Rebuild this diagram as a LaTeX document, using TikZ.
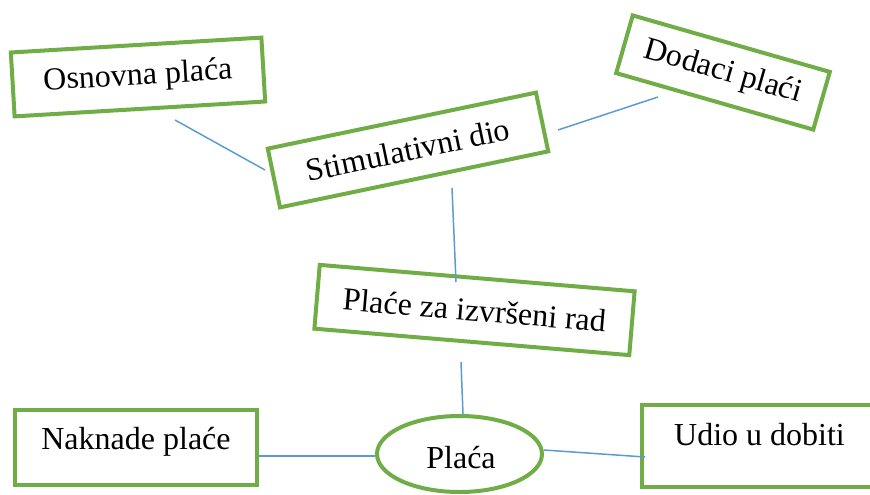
\documentclass[tikz,border=0pt]{standalone}
\usepackage{fontspec}
\setmainfont{Liberation Serif}
\usetikzlibrary{shapes.geometric,calc}
\definecolor{boxgreen}{RGB}{112,173,71}
\definecolor{lineblue}{RGB}{91,155,213}
\begin{document}
\begin{tikzpicture}[x=1pt,y=-1pt,
  box/.style={draw=boxgreen,line width=4pt,fill=white,inner sep=0pt,
    font=\fontsize{32}{38}\selectfont},
  oval/.style={box,ellipse},
  lbl/.style={inner sep=0pt,anchor=base,font=\fontsize{32}{38}\selectfont},
  link/.style={draw=lineblue,line width=1.5pt}]
\useasboundingbox (0,0) rectangle (870,495);
\clip (0,0) rectangle (870,495);
% rotated boxes
\node[box,minimum width=251pt,minimum height=64pt,rotate=3.4] (osn) at (138,77) {Osnovna plaća};
\node[box,minimum width=274pt,minimum height=60pt,rotate=11.8] (stim) at (408,150) {Stimulativni dio};
\node[box,minimum width=205pt,minimum height=60pt,rotate=-16] (dod) at (723,72.5) {Dodaci plaći};
\node[box,minimum width=316pt,minimum height=64pt,rotate=-4.8] (rad) at (474.5,310) {Plaće za izvršeni rad};
% bottom row
\node[box,minimum width=242pt,minimum height=75pt] (nak) at (136,447.5) {};
\node[lbl] (naktxt) at ($(nak.center)+(0,1.5)$) {Naknade plaće};
\node[box,minimum width=235pt,minimum height=82pt] (udio) at (759.5,446) {};
\node[lbl] (udiotxt) at ($(udio.center)+(0,-1)$) {Udio u dobiti};
\node[oval,minimum width=165pt,minimum height=76pt] (placa) at (459.5,454) {};
\node[lbl] (placatxt) at ($(placa.center)+(1.5,14)$) {Plaća};
% connector end points
\coordinate (osnS) at (175,120);
\coordinate (stimW) at (265,170);
\coordinate (stimE) at (558,130);
\coordinate (dodW) at (658,97);
\coordinate (stimS) at (452,188);
\coordinate (radN) at (456,282);
\coordinate (radS) at (461,362);
\coordinate (placaN) at (463,414);
\coordinate (nakE) at (259,456);
\coordinate (placaW) at (375,456);
\coordinate (placaE) at (544,450);
\coordinate (udioW) at (645,457);
% connectors
\draw[link] (osnS) -- (stimW);
\draw[link] (stimE) -- (dodW);
\draw[link] (stimS) -- (radN);
\draw[link] (radS) -- (placaN);
\draw[link] (nakE) -- (placaW);
\draw[link] (placaE) -- (udioW);
\end{tikzpicture}
\end{document}
